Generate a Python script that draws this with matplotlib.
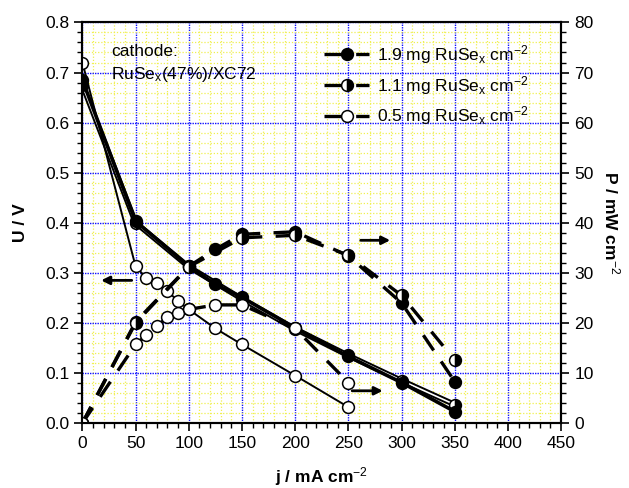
import numpy as np
import matplotlib
matplotlib.use('Agg')
import matplotlib.pyplot as plt
import matplotlib.patheffects as pe
from matplotlib.ticker import MultipleLocator, FormatStrFormatter

plt.rcParams['font.family'] = ['Liberation Sans', 'DejaVu Sans']
plt.rcParams['mathtext.fontset'] = 'custom'
plt.rcParams['mathtext.rm'] = 'Liberation Sans'
plt.rcParams['mathtext.it'] = 'Liberation Sans:italic'
plt.rcParams['mathtext.bf'] = 'Liberation Sans:bold'

# 1.9 mg RuSe_x cm^-2 (filled)
j_19 = [0, 50, 100, 125, 150, 200, 250, 300, 350]
U_19 = [0.685, 0.403, 0.313, 0.277, 0.251, 0.19, 0.133, 0.081, 0.023]
P_19 = [0, 20.2, 31.3, 34.7, 37.7, 38.2, 33.4, 24.0, 8.3]

# 1.1 mg RuSe_x cm^-2 (half filled)
j_11 = [0, 50, 100, 150, 200, 250, 300, 350]
U_11 = [0.675, 0.40, 0.312, 0.248, 0.188, 0.135, 0.085, 0.037]
P_11 = [0, 20.0, 31.2, 37.0, 37.5, 33.5, 25.5, 12.6]

# 0.5 mg RuSe_x cm^-2 (open)
j_05 = [0, 50, 60, 70, 80, 90, 100, 125, 150, 200, 250]
U_05 = [0.72, 0.313, 0.29, 0.279, 0.263, 0.244, 0.227, 0.189, 0.157, 0.095, 0.032]
P_05 = [0, 15.7, 17.5, 19.4, 21.1, 22.0, 22.7, 23.6, 23.6, 18.9, 8.1]

labels = ['1.9 mg RuSe$_\\mathrm{x}$ cm$^{-2}$',
          '1.1 mg RuSe$_\\mathrm{x}$ cm$^{-2}$',
          '0.5 mg RuSe$_\\mathrm{x}$ cm$^{-2}$']

fig = plt.figure(figsize=(6.29, 4.88), dpi=100)
ax = fig.add_axes([0.131, 0.133, 0.761, 0.821])
ax2 = ax.twinx()

ax.set_xlim(0, 450)
ax.set_ylim(0, 0.8)
ax2.set_ylim(0, 80)

ax.xaxis.set_major_locator(MultipleLocator(50))
ax.xaxis.set_minor_locator(MultipleLocator(10))
ax.yaxis.set_major_locator(MultipleLocator(0.1))
ax.yaxis.set_minor_locator(MultipleLocator(0.02))
ax.yaxis.set_major_formatter(FormatStrFormatter('%.1f'))
ax2.yaxis.set_major_locator(MultipleLocator(10))
ax2.yaxis.set_minor_locator(MultipleLocator(2))

ax.set_axisbelow(True)
for axis in (ax.xaxis, ax.yaxis):
    axis.grid(True, which='minor', color='#f0f050', linestyle=(0, (1, 1.5)), linewidth=0.9)
    axis.grid(True, which='major', color='#1010ff', linestyle=(0, (1, 0.8)), linewidth=1.0)
ax2.grid(False)

for a in (ax, ax2):
    a.tick_params(which='major', direction='out', length=6, width=1.2, labelsize=12.5)
    a.tick_params(which='minor', direction='out', length=3.5, width=1)
    for s in a.spines.values():
        s.set_linewidth(1.5)

mk = dict(marker='o', markersize=8.5, markeredgecolor='black', markeredgewidth=1.1)
half = dict(fillstyle='right', markerfacecolor='black', markerfacecoloralt='white')

# U-j curves
ax.plot(j_11, U_11, color='white', linewidth=1.2,
        path_effects=[pe.Stroke(linewidth=4, foreground='black'), pe.Normal()], zorder=3)
ax.plot(j_11, U_11, linestyle='none', zorder=4, **mk, **half)
ax.plot(j_05, U_05, color='black', linewidth=1.4, markerfacecolor='white', zorder=3, **mk)
ax.plot(j_19, U_19, color='black', linewidth=2.6, markerfacecolor='black', zorder=5, **mk)

# P-j curves
dash = (0, (5.5, 4))
l1, = ax2.plot(j_19, P_19, color='black', linewidth=2.4, linestyle=dash,
               markerfacecolor='black', label=labels[0], **mk)
l2, = ax2.plot(j_11, P_11, color='black', linewidth=2.4, linestyle=dash,
               label=labels[1], **mk, **half)
l3, = ax2.plot(j_05, P_05, color='black', linewidth=2.4, linestyle=dash,
               markerfacecolor='white', label=labels[2], **mk)

# arrows
ax.annotate('', xy=(15, 0.285), xytext=(49, 0.285),
            arrowprops=dict(arrowstyle='-|>', color='black', lw=2, mutation_scale=12))
ax2.annotate('', xy=(292, 36.5), xytext=(259, 36.5),
             arrowprops=dict(arrowstyle='-|>', color='black', lw=2, mutation_scale=12))
ax2.annotate('', xy=(285, 6.45), xytext=(251, 6.45),
             arrowprops=dict(arrowstyle='-|>', color='black', lw=2, mutation_scale=12))

ax.text(27, 0.756, 'cathode:\nRuSe$_\\mathrm{x}$(47%)/XC72', fontsize=12.5,
        ha='left', va='top', linespacing=1.4)

leg = fig.legend(handles=[l1, l2, l3], loc='upper left', bbox_to_anchor=(0.515, 0.912),
                 frameon=False, fontsize=12.5, handlelength=2.6, handletextpad=0.45,
                 labelspacing=0.45, borderpad=0, borderaxespad=0)

ax.set_xlabel('j / mA cm$^{-2}$', fontsize=12.5, fontweight='bold', labelpad=10)
ax.set_ylabel('U / V', fontsize=12.5, fontweight='bold', labelpad=12)
ax2.set_ylabel('P / mW cm$^{-2}$', fontsize=12.5, fontweight='bold', rotation=-90, labelpad=20)

fig.savefig('out.png', dpi=100)
